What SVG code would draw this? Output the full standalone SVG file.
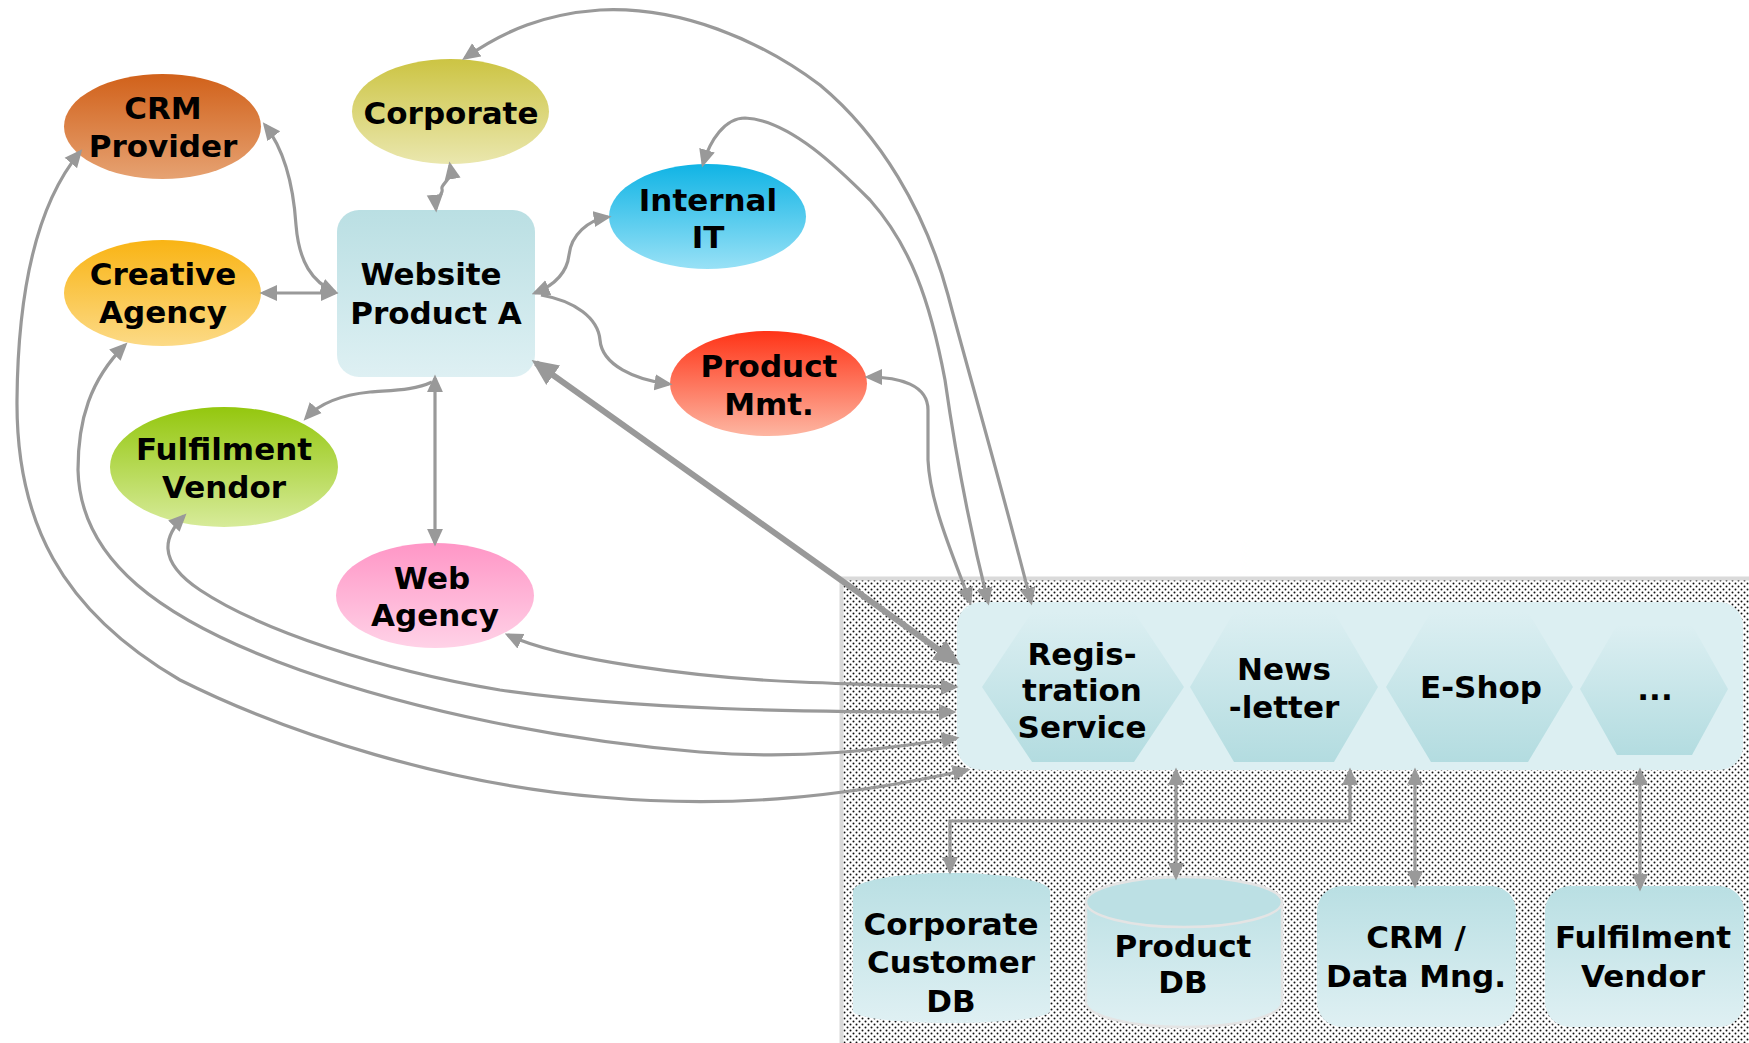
<svg xmlns="http://www.w3.org/2000/svg" width="1749" height="1043" viewBox="0 0 1749 1043">
<style>
.lbl{font-family:"DejaVu Sans","Verdana",sans-serif;font-weight:bold;font-size:31px;fill:#000;text-anchor:middle}
.c{fill:none;stroke:#999;stroke-width:3.2}
.ct{fill:none;stroke:#999;stroke-width:6}
</style>
<defs>
<pattern id="dots" width="6" height="6" patternUnits="userSpaceOnUse">
<rect width="6" height="6" fill="#fff"/>
<circle cx="1.5" cy="1.5" r="1" fill="#111"/>
<circle cx="4.5" cy="4.5" r="1" fill="#111"/>
</pattern>
<linearGradient id="gCRM" x1="0" y1="0" x2="0" y2="1"><stop offset="0" stop-color="#D1611A"/><stop offset="1" stop-color="#E6A272"/></linearGradient>
<linearGradient id="gCorp" x1="0" y1="0" x2="0" y2="1"><stop offset="0" stop-color="#CCC443"/><stop offset="1" stop-color="#EAE7AE"/></linearGradient>
<linearGradient id="gCre" x1="0" y1="0" x2="0" y2="1"><stop offset="0" stop-color="#F9B414"/><stop offset="1" stop-color="#FCDA86"/></linearGradient>
<linearGradient id="gWeb" x1="0" y1="0" x2="0" y2="1"><stop offset="0" stop-color="#BADFE3"/><stop offset="1" stop-color="#DEF0F3"/></linearGradient>
<linearGradient id="gIT" x1="0" y1="0" x2="0" y2="1"><stop offset="0" stop-color="#10B4E5"/><stop offset="1" stop-color="#98E1F6"/></linearGradient>
<linearGradient id="gPM" x1="0" y1="0" x2="0" y2="1"><stop offset="0" stop-color="#FF3417"/><stop offset="1" stop-color="#FDB6A2"/></linearGradient>
<linearGradient id="gFV" x1="0" y1="0" x2="0" y2="1"><stop offset="0" stop-color="#94C70E"/><stop offset="1" stop-color="#D7EB9A"/></linearGradient>
<linearGradient id="gWA" x1="0" y1="0" x2="0" y2="1"><stop offset="0" stop-color="#FF96C6"/><stop offset="1" stop-color="#FFD2E7"/></linearGradient>
<linearGradient id="gHex" x1="0" y1="0" x2="0" y2="1"><stop offset="0" stop-color="#DCEFF2"/><stop offset="1" stop-color="#B3DCE0"/></linearGradient>
<linearGradient id="gBox" x1="0" y1="0" x2="0" y2="1"><stop offset="0" stop-color="#B9DFE3"/><stop offset="1" stop-color="#DFF0F3"/></linearGradient>
<marker id="ah" viewBox="0 0 10 10" refX="8" refY="5" markerWidth="5.6" markerHeight="5.6" orient="auto-start-reverse" markerUnits="strokeWidth"><path d="M0,0.5 L10,5 L0,9.5 z" fill="#999"/></marker>
<marker id="ahT" viewBox="0 0 10 10" refX="8" refY="5" markerWidth="4.4" markerHeight="4.4" orient="auto-start-reverse" markerUnits="strokeWidth"><path d="M0,0.5 L10,5 L0,9.5 z" fill="#999"/></marker>
</defs>

<g id="backend-area">
<rect x="841.5" y="578.5" width="910" height="470" fill="url(#dots)" stroke="#DADADA" stroke-width="4"/>
</g>

<g id="crm-provider">
<ellipse cx="162.5" cy="126.5" rx="98.5" ry="52.5" fill="url(#gCRM)"/>
<text class="lbl" x="163" y="119">CRM</text>
<text class="lbl" x="163" y="157">Provider</text>
</g>
<g id="corporate">
<ellipse cx="450.5" cy="111.5" rx="98.5" ry="52.5" fill="url(#gCorp)"/>
<text class="lbl" x="451" y="124">Corporate</text>
</g>
<g id="creative-agency">
<ellipse cx="162.5" cy="293" rx="98.5" ry="53" fill="url(#gCre)"/>
<text class="lbl" x="163" y="285">Creative</text>
<text class="lbl" x="163" y="323">Agency</text>
</g>
<g id="website-product-a">
<rect x="337" y="210" width="198" height="167" rx="22" fill="url(#gWeb)"/>
<text class="lbl" x="431" y="285">Website</text>
<text class="lbl" x="436" y="324">Product A</text>
</g>
<g id="internal-it">
<ellipse cx="707.5" cy="216.5" rx="98.5" ry="52.5" fill="url(#gIT)"/>
<text class="lbl" x="708" y="211">Internal</text>
<text class="lbl" x="708" y="248">IT</text>
</g>
<g id="product-mmt">
<ellipse cx="768.5" cy="383.5" rx="98.5" ry="52.5" fill="url(#gPM)"/>
<text class="lbl" x="769" y="377">Product</text>
<text class="lbl" x="769" y="415">Mmt.</text>
</g>
<g id="fulfilment-vendor">
<ellipse cx="224" cy="467" rx="114" ry="60" fill="url(#gFV)"/>
<text class="lbl" x="224" y="460">Fulfilment</text>
<text class="lbl" x="224" y="498">Vendor</text>
</g>
<g id="web-agency">
<ellipse cx="435" cy="595.5" rx="99" ry="52.5" fill="url(#gWA)"/>
<text class="lbl" x="432" y="589">Web</text>
<text class="lbl" x="435" y="626">Agency</text>
</g>

<g id="services-platform">
<rect x="957" y="602" width="786" height="168" rx="24" fill="#DCEFF2"/>
</g>
<g id="registration-service">
<polygon points="982,687 1032,612 1134,612 1184,687 1134,762 1032,762" fill="url(#gHex)"/>
<text class="lbl" x="1082" y="665">Regis-</text>
<text class="lbl" x="1082" y="701">tration</text>
<text class="lbl" x="1082" y="738">Service</text>
</g>
<g id="newsletter">
<polygon points="1190,687 1234,612 1334,612 1378,687 1334,762 1234,762" fill="url(#gHex)"/>
<text class="lbl" x="1284" y="680">News</text>
<text class="lbl" x="1284" y="718">-letter</text>
</g>
<g id="e-shop">
<polygon points="1386,687 1431,612 1528,612 1573,687 1528,762 1431,762" fill="url(#gHex)"/>
<text class="lbl" x="1481" y="698">E-Shop</text>
</g>
<g id="more-services">
<polygon points="1580,689 1617,625 1692,625 1728,689 1692,755 1617,755" fill="url(#gHex)"/>
<text class="lbl" x="1655" y="700">...</text>
</g>

<g id="corporate-customer-db">
<path d="M853,891 A98.5,18 0 0 1 1050,891 L1050,1011 A98.5,12 0 0 1 853,1011 Z" fill="url(#gBox)"/>
<text class="lbl" x="951" y="935">Corporate</text>
<text class="lbl" x="951" y="973">Customer</text>
<text class="lbl" x="951" y="1012">DB</text>
</g>
<g id="product-db">
<path d="M1086,902 L1086,1002 A98,25 0 0 0 1282,1002 L1282,902 A98,25 0 0 0 1086,902 Z" fill="url(#gBox)" stroke="#E4E4E4" stroke-width="2.5"/>
<ellipse cx="1184" cy="902" rx="98" ry="25" fill="#BCE0E4" stroke="#E4E4E4" stroke-width="2.5"/>
<text class="lbl" x="1183" y="957">Product</text>
<text class="lbl" x="1183" y="993">DB</text>
</g>
<g id="crm-data-mng">
<rect x="1317" y="886" width="199" height="141" rx="25" fill="url(#gBox)"/>
<text class="lbl" x="1416" y="948">CRM /</text>
<text class="lbl" x="1416" y="987">Data Mng.</text>
</g>
<g id="fulfilment-vendor-backend">
<rect x="1545" y="886" width="199" height="141" rx="25" fill="url(#gBox)"/>
<text class="lbl" x="1643" y="948">Fulfilment</text>
<text class="lbl" x="1643" y="987">Vendor</text>
</g>

<g id="connectors">
<path class="c" marker-start="url(#ah)" marker-end="url(#ah)" d="M450,165 C453,181 440,184 442,189 C444,194 435,197 436,209"/>
<path class="c" marker-start="url(#ah)" marker-end="url(#ah)" d="M265,125 C283,148 293,180 296,225 C299,262 312,282 335,292"/>
<path class="c" marker-start="url(#ah)" marker-end="url(#ah)" d="M263,293 L335,293"/>
<path class="c" marker-start="url(#ah)" marker-end="url(#ah)" d="M535,293 C555,285 567,272 569,255 C571,235 588,220 608,217"/>
<path class="c" marker-end="url(#ah)" d="M541,295 C575,301 598,318 600,340 C602,365 635,380 669,384"/>
<path class="c" marker-start="url(#ah)" marker-end="url(#ah)" d="M435,378 L435,543"/>
<path class="c" marker-end="url(#ah)" d="M432,382 C415,390 395,390 370,392 C340,395 318,405 306,418"/>
<path class="ct" marker-start="url(#ahT)" marker-end="url(#ahT)" d="M536,363 L956,662"/>
<path class="c" marker-start="url(#ah)" marker-end="url(#ah)" d="M465,58 C505,30 545,14 600,10 C680,6 760,40 820,85 C880,135 925,210 948,295 C965,360 1000,480 1031,602"/>
<path class="c" marker-start="url(#ah)" marker-end="url(#ah)" d="M703,164 C710,140 725,118 745,118 C790,120 840,170 870,200 C910,245 930,300 945,380 C955,450 970,530 988,602"/>
<path class="c" marker-start="url(#ah)" marker-end="url(#ah)" d="M868,377 C900,377 928,385 928,410 L928,460 C930,505 955,560 970,602"/>
<path class="c" marker-start="url(#ah)" marker-end="url(#ah)" d="M508,635 C560,660 700,678 800,682 C880,685 920,687 955,687"/>
<path class="c" marker-start="url(#ah)" marker-end="url(#ah)" d="M184,516 C165,535 155,560 200,590 C260,630 380,670 500,690 C640,710 800,712 953,712"/>
<path class="c" marker-start="url(#ah)" marker-end="url(#ah)" d="M125,345 C90,380 78,420 78,470 C80,560 160,620 300,670 C420,712 560,740 700,752 C800,760 880,750 956,738"/>
<path class="c" marker-start="url(#ah)" marker-end="url(#ah)" d="M80,152 C40,200 18,280 17,400 C16,520 60,610 180,680 C290,735 450,785 600,797 C720,808 830,800 967,770"/>
<path class="c" marker-start="url(#ah)" marker-end="url(#ah)" d="M1176,771 L1176,877"/>
<path class="c" marker-start="url(#ah)" marker-end="url(#ah)" d="M1350,771 L1350,821 L950,821 L950,871"/>
<path class="c" marker-start="url(#ah)" marker-end="url(#ah)" d="M1415,771 L1415,885"/>
<path class="c" marker-start="url(#ah)" marker-end="url(#ah)" d="M1640,771 L1640,888"/>
</g>
</svg>
